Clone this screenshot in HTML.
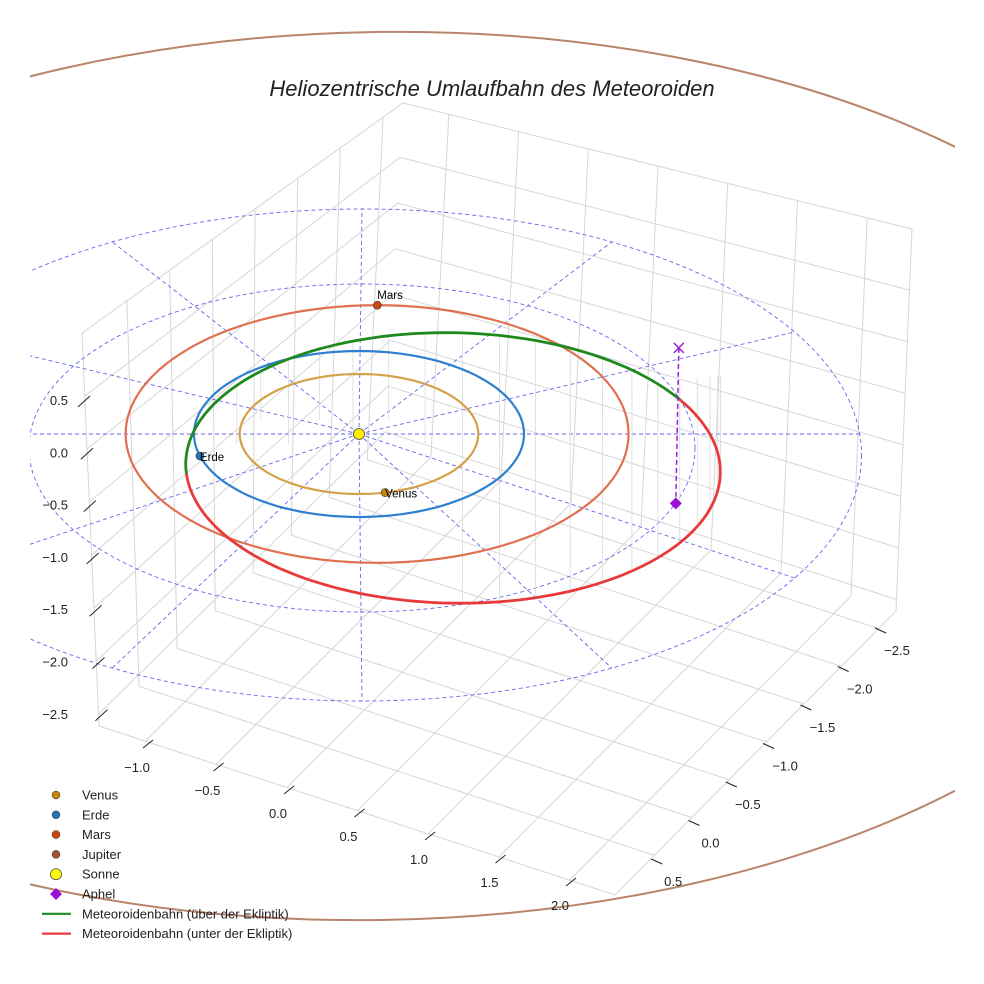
<!DOCTYPE html>
<html><head><meta charset="utf-8"><style>
body{margin:0;background:#fff}
svg{display:block;font-family:"Liberation Sans",sans-serif}
</style></head><body>
<svg id="c" width="984" height="984" viewBox="0 0 984 984">
<defs><clipPath id="clip"><rect x="30" y="0" width="925" height="984"/></clipPath></defs>
<g id="grid" stroke="#d6d6d6" stroke-width="1" fill="none"></g>
<g id="jup" clip-path="url(#clip)"></g>
<g id="ecl" clip-path="url(#clip)"></g>
<g id="stems"></g>
<g id="orb"></g>
<g id="marks"></g>
<g id="ticks" font-size="13" fill="#222"></g>
<text x="492" y="96" text-anchor="middle" font-size="22" font-style="italic" fill="#222">Heliozentrische Umlaufbahn des Meteoroiden</text>
<g id="legend" font-size="13" fill="#222"></g>
</svg>
<script>
const planetNames=["Venus","Erde","Mars"];
const planetRadii=[0.723,1.0,1.524];
const planetEcc=[0,0,0.09];
const planetColors=["#d4a04a","#2f7fd0","#e07050"];
const planetAngles=[-1.35,3.41,1.57];
const dotColors=["#c8860a","#1f77b4","#cc4411"];
const meteorA=1.62, meteorB=1.48, meteorCx=0.57, meteorCy=-0.37, meteorZ=0.12;
const aphel=[1.92,-0.55,-0.22,1.22];
const eclipticRadii=[2,3];
const zTicks=["0.5","0.0","\u22120.5","\u22121.0","\u22121.5","\u22122.0","\u22122.5"];
const xTicks=["\u22121.0","\u22120.5","0.0","0.5","1.0","1.5","2.0"];
const yTicks=["\u22122.5","\u22122.0","\u22121.5","\u22121.0","\u22120.5","0.0","0.5"];
const legendLabels=["Venus","Erde","Mars","Jupiter","Sonne","Aphel","Meteoroidenbahn (über der Ekliptik)","Meteoroidenbahn (unter der Ekliptik)"];

const NS="http://www.w3.org/2000/svg";
const SX=359,SY=434,KX=165,KY=83,KZ=108;
function px(x){return SX+KX*x}
function py(y,z){return SY-KY*y-KZ*(z||0)}
function mk(parent,tag,attrs){const e=document.createElementNS(NS,tag);for(const k in attrs)e.setAttribute(k,attrs[k]);document.getElementById(parent).appendChild(e);return e}

const L=[99,726],F=[615,895],R=[896,611],B=[385,442],Lt=[82,333],Bt=[403,103],Rt=[912,229];
function lerp(a,b,t){return [a[0]+(b[0]-a[0])*t,a[1]+(b[1]-a[1])*t]}
function gline(a,b,name){const e=mk("grid","line",{x1:a[0],y1:a[1],x2:b[0],y2:b[1]});
 
 }
const uF=[0.09,0.227,0.364,0.501,0.638,0.775,0.912];
const vF=[0.14,0.273,0.406,0.539,0.672,0.805,0.938];
const wF=[0.16,0.295,0.43,0.565,0.70,0.835,0.97];
gline(Lt,Bt,'grid-edge');gline(Bt,Rt,'grid-edge');gline(Lt,L,'grid-edge');gline(Rt,R,'grid-edge');gline(L,F,'grid-edge');gline(F,R,'grid-edge');
uF.forEach(u=>gline(lerp(L,F,u),lerp(B,R,u),'floor-grid-line'));
vF.forEach(v=>gline(lerp(F,R,v),lerp(L,B,v),'floor-grid-line'));
uF.forEach(u=>gline(lerp(B,R,u),lerp(Bt,Rt,u),'wall-grid-line'));
wF.forEach(w=>gline(lerp(Bt,B,w),lerp(Rt,R,w),'wall-grid-line'));
vF.forEach(v=>gline(lerp(L,B,v),lerp(Lt,Bt,v),'wall-grid-line'));
wF.forEach(w=>gline(lerp(Lt,L,w),lerp(Bt,B,w),'wall-grid-line'));

const j=mk("jup","ellipse",{cx:378,cy:476,rx:838,ry:444,fill:"none",stroke:"#b8846a","stroke-width":2,transform:"rotate(-1 378 476)"});



const EX=362,EY=455,EKX=166.5,EKY=82;
eclipticRadii.forEach(r=>{const e=mk("ecl","ellipse",{cx:EX,cy:EY-(3-r)*7,rx:EKX*r,ry:EKY*r,fill:"none",stroke:"#6666ee","stroke-width":0.9,"stroke-dasharray":"4,3"});
 
 });
for(let k=0;k<12;k++){const a=k*Math.PI/6;const R3=3;
 let x2=EX+EKX*R3*Math.cos(a),y2=EY-EKY*R3*Math.sin(a);
 if(k==0||k==6)y2=SY;
 const e=mk("ecl","line",{x1:SX,y1:SY,x2:x2,y2:y2,stroke:"#6666ee","stroke-width":0.9,"stroke-dasharray":"4,3"});
 
 }

planetRadii.forEach((r,i)=>{let d="";for(let t=0;t<=360;t+=3){const a=t*Math.PI/180;const x=r*Math.cos(a)+planetEcc[i]*r*0.8,y=r*Math.sin(a)*(1+planetEcc[i]*0.2);d+=(t?"L":"M")+px(x).toFixed(1)+","+py(y).toFixed(1)}
 const e=mk("orb","path",{d:d,fill:"none",stroke:planetColors[i],"stroke-width":2.2});
 
 
 const a=planetAngles[i];const x=r*Math.cos(a)+planetEcc[i]*r*0.8,y=r*Math.sin(a)*(1+planetEcc[i]*0.2);
 const c=mk("marks","circle",{cx:px(x),cy:py(y),r:4,fill:dotColors[i],stroke:"#333","stroke-width":0.6});
 
 
 const tx=mk("marks","text",{x:px(x),y:py(y)+(i==2?-6:5),"font-size":11.5,fill:"#000"});tx.textContent=planetNames[i];
 
 
});

function mz(a){return meteorZ*(Math.sin(a-0.3)-0.25)}
let up="",dn="";let prevUp=null;
for(let t=0;t<=360;t+=2){const a=t*Math.PI/180;const x=meteorCx+meteorA*Math.cos(a),y=meteorCy+meteorB*Math.sin(a),z=mz(a);
 const p=px(x).toFixed(1)+","+py(y,z).toFixed(1);const isUp=z>=0;
 if(isUp){up+=(prevUp===true?"L":"M")+p}else{dn+=(prevUp===false?"L":"M")+p}
 if(prevUp!==null&&prevUp!==isUp){if(isUp)dn+="L"+p;else up+="L"+p}
 prevUp=isUp;
 if(t%8==0&&t>=270||t%8==0&&t<=150){const sx=px(x),sy=py(y,z);
  const s=mk("stems","line",{x1:sx,y1:Math.min(sy,SY-40-(x-1)*15),x2:sx,y2:Math.max(sy,SY+10-(t%16)*3),stroke:"#dcdcdc","stroke-width":0.8});
  
  }
}
const g=mk("orb","path",{d:up,fill:"none",stroke:"#1e8a1e","stroke-width":2.8});


const rr=mk("orb","path",{d:dn,fill:"none",stroke:"#e83a3a","stroke-width":2.8});



const ax=px(aphel[0]);
const al=mk("marks","line",{x1:ax+3,y1:py(aphel[1],aphel[3]),x2:ax,y2:py(aphel[1],aphel[2]),stroke:"#9a1fd0","stroke-width":1.5,"stroke-dasharray":"5,3"});


const xy=py(aphel[1],aphel[3]);
const xm=mk("marks","path",{d:`M${ax-2},${xy-5}L${ax+8},${xy+5}M${ax+8},${xy-5}L${ax-2},${xy+5}`,stroke:"#9a1fd0","stroke-width":1.5});


const dy=py(aphel[1],aphel[2]);
const dm=mk("marks","path",{d:`M${ax},${dy-6}L${ax+6},${dy}L${ax},${dy+6}L${ax-6},${dy}Z`,fill:"#9a10d8"});



const s=mk("marks","circle",{cx:SX,cy:SY,r:5.5,fill:"#ffee00",stroke:"#444","stroke-width":0.8});



zTicks.forEach((t,i)=>{const y=405+i*52.3;const e=mk("ticks","text",{x:68,y:y,"text-anchor":"end"});e.textContent=t;
 
 
 const l=mk("ticks","line",{x1:78+i*2.9,y1:y+2,x2:90+i*2.9,y2:y-9,stroke:"#222"});
 
 });
xTicks.forEach((t,i)=>{const x=137+i*70.5,y=772+i*23;const e=mk("ticks","text",{x:x,y:y,"text-anchor":"middle"});e.textContent=t;
 
 
 const l=mk("ticks","line",{x1:x+6,y1:y-24,x2:x+16,y2:y-32,stroke:"#222"});
 
 });
yTicks.forEach((t,i)=>{const x=897-i*37.3,y=655+i*38.5;const e=mk("ticks","text",{x:x,y:y,"text-anchor":"middle"});e.textContent=t;
 
 
 const l=mk("ticks","line",{x1:x-22,y1:y-27,x2:x-11,y2:y-22,stroke:"#222"});
 
 });

const lc=["#c8860a","#1f77b4","#cc4411","#a0522d"];
legendLabels.forEach((t,i)=>{const y=795+i*19.8;
 if(i<4){const c=mk("legend","circle",{cx:56,cy:y,r:4,fill:lc[i],stroke:"#333","stroke-width":0.5});}
 else if(i==4){const c=mk("legend","circle",{cx:56,cy:y,r:5.5,fill:"#ffff00",stroke:"#333","stroke-width":0.7});}
 else if(i==5){const c=mk("legend","path",{d:`M56,${y-6}L62,${y}L56,${y+6}L50,${y}Z`,fill:"#9a10d8"});}
 else{const c=mk("legend","line",{x1:42,y1:y,x2:71,y2:y,stroke:i==6?"#1e8a1e":"#e83a3a","stroke-width":2.2});}
 const e=mk("legend","text",{x:82,y:y+4.5});e.textContent=t;
 
 
});
</script>
</body></html>
